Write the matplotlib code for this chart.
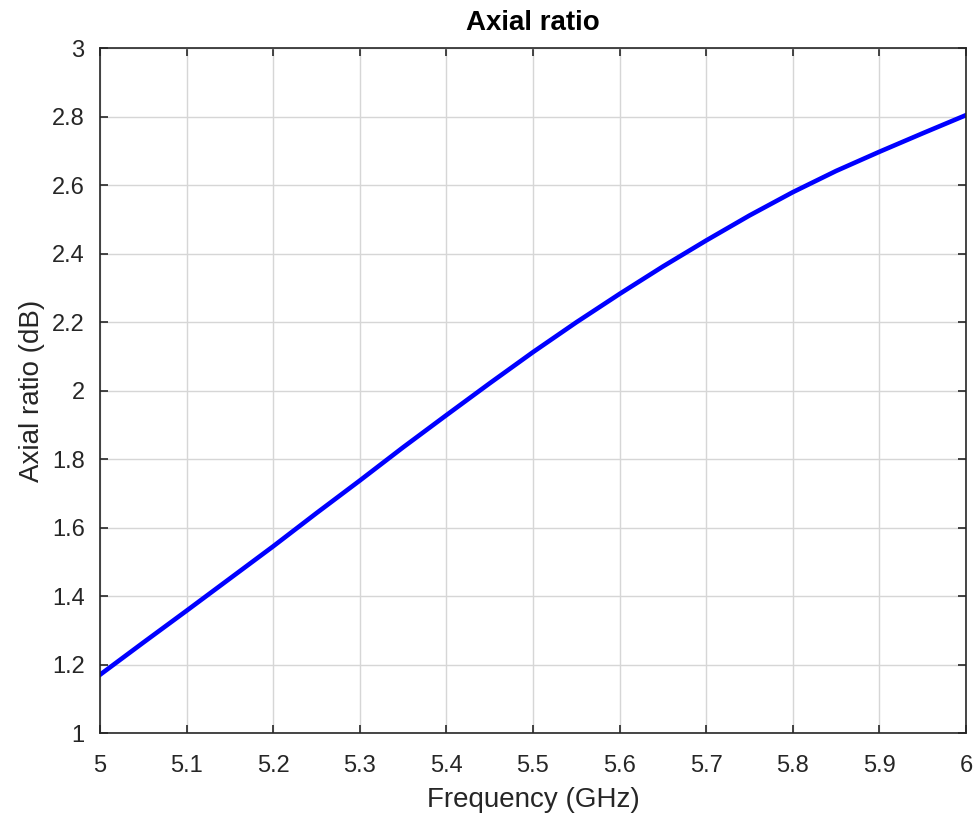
import matplotlib
matplotlib.use('Agg')
import matplotlib.pyplot as plt
import numpy as np

# values
freq_ghz = [5.0, 5.05, 5.1, 5.15, 5.2, 5.25, 5.3, 5.35, 5.4, 5.45, 5.5,
            5.55, 5.6, 5.65, 5.7, 5.75, 5.8, 5.85, 5.9, 5.95, 6.0]
axial_ratio_db = [1.17, 1.264, 1.357, 1.451, 1.545, 1.642, 1.737, 1.834, 1.928, 2.021, 2.112,
                  2.199, 2.282, 2.362, 2.438, 2.511, 2.579, 2.641, 2.697, 2.751, 2.804]

xticks = [5, 5.1, 5.2, 5.3, 5.4, 5.5, 5.6, 5.7, 5.8, 5.9, 6]
xtick_labels = ['5', '5.1', '5.2', '5.3', '5.4', '5.5', '5.6', '5.7', '5.8', '5.9', '6']
yticks = [1, 1.2, 1.4, 1.6, 1.8, 2, 2.2, 2.4, 2.6, 2.8, 3]
ytick_labels = ['1', '1.2', '1.4', '1.6', '1.8', '2', '2.2', '2.4', '2.6', '2.8', '3']

plt.rcParams['font.family'] = ['Liberation Sans', 'DejaVu Sans']
dark = '#262626'

fig = plt.figure(figsize=(9.78, 8.18), dpi=100)
ax = fig.add_axes([0.1022, 0.1039, 0.8855, 0.8374])

ax.plot(freq_ghz, axial_ratio_db, color='#0000ff', lw=3.3)

ax.set_xlim(5, 6)
ax.set_ylim(1, 3)
ax.set_xticks(xticks)
ax.set_xticklabels(xtick_labels)
ax.set_yticks(yticks)
ax.set_yticklabels(ytick_labels)

ax.grid(True, color='#d6d6d6', lw=1)
ax.set_axisbelow(True)
ax.tick_params(direction='in', length=6, width=1.2, colors=dark, labelsize=17,
               top=True, right=True)
ax.tick_params(axis='x', pad=16)
ax.tick_params(axis='y', pad=11)
for s in ax.spines.values():
    s.set_color(dark)
    s.set_linewidth(1.2)

ax.set_xlabel('Frequency (GHz)', fontsize=20, color=dark, labelpad=7)
ax.set_ylabel('Axial ratio (dB)', fontsize=20, color=dark, labelpad=5)
ax.set_title('Axial ratio', fontsize=20, fontweight='bold', color='black', pad=13)

fig.savefig('out.png', dpi=100)
